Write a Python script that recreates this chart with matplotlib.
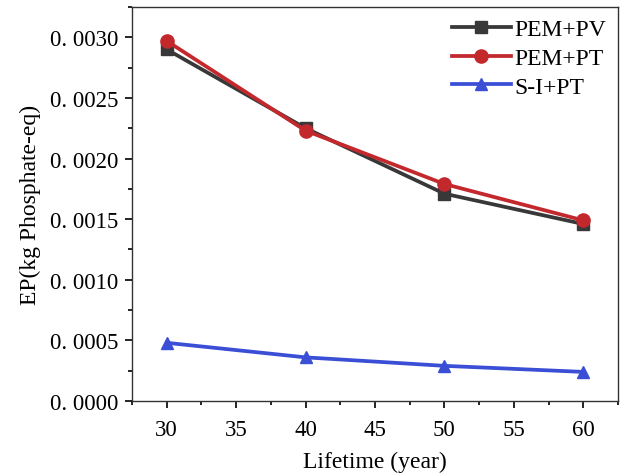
import matplotlib
matplotlib.use("Agg")
import matplotlib.pyplot as plt
from matplotlib.ticker import MultipleLocator, FuncFormatter

years = [30, 40, 50, 60]
pem_pv = [0.00290, 0.00225, 0.00171, 0.00146]
pem_pt = [0.00297, 0.00223, 0.00179, 0.00149]
si_pt = [0.00048, 0.00036, 0.00029, 0.00024]

plt.rcParams['font.family'] = ['Liberation Serif', 'DejaVu Serif']

fig = plt.figure(figsize=(6.25, 4.77), dpi=100)
ax = fig.add_axes([132/625, 1-402/477, (618-132)/625, (402-8)/477])

ax.plot(years, pem_pv, color='#383838', marker='s', lw=2.7, ms=8, label='PEM+PV')
ax.plot(years, pem_pt, color='#c3282d', marker='o', lw=2.7, ms=9.5, label='PEM+PT')
ax.plot(years, si_pt, color='#3b4fd6', marker='^', lw=2.7, ms=9, label='S-I+PT')

ax.set_xlim(27.5, 62.5)
ax.set_ylim(0, 0.00325)
ax.xaxis.set_major_locator(MultipleLocator(5))
ax.xaxis.set_minor_locator(MultipleLocator(2.5))
ax.yaxis.set_major_locator(MultipleLocator(0.0005))
ax.yaxis.set_minor_locator(MultipleLocator(0.00025))
ax.yaxis.set_major_formatter(FuncFormatter(lambda v, p: "0. %04d" % round(v * 10000)))
ax.tick_params(which='both', direction='out', top=False, right=False, labelsize=16.5)
ax.tick_params(which='major', length=5, width=1.2, pad=5)
ax.tick_params(axis='x', which='major', pad=8)
ax.tick_params(which='minor', length=3, width=1.2)
for s in ax.spines.values():
    s.set_linewidth(1.0)
    s.set_color('#333333')

ax.set_xlabel('Lifetime (year)', fontsize=17, labelpad=8)
ax.set_ylabel('EP(kg Phosphate-eq)', fontsize=17, labelpad=6)

ax.legend(loc='upper right', frameon=False, fontsize=17, handlelength=2.5,
          labelspacing=0.3, handletextpad=0.15, borderaxespad=0.1)

fig.savefig('out.png', dpi=100)
